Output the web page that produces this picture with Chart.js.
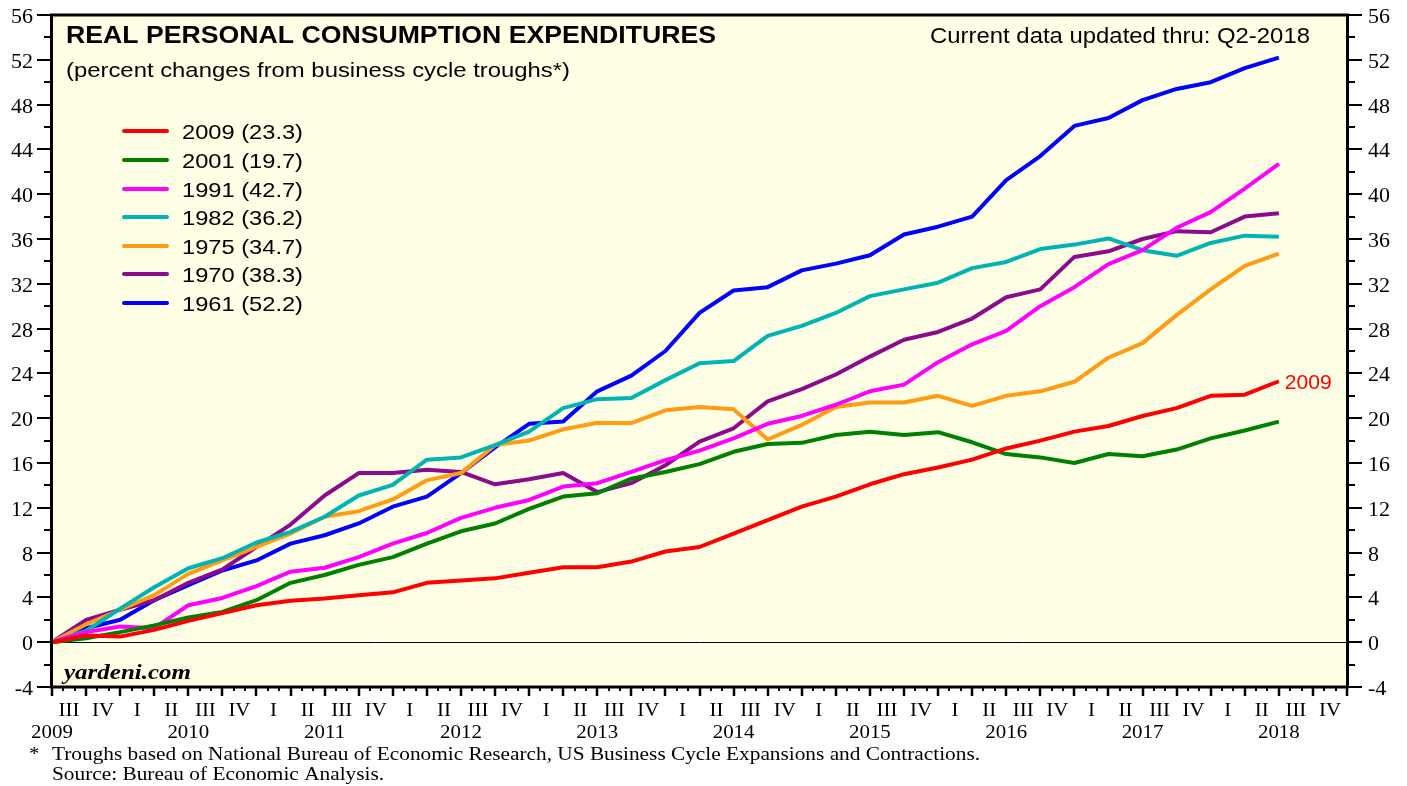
<!DOCTYPE html>
<html>
<head>
<meta charset="utf-8">
<script src="https://cdn.jsdelivr.net/npm/chart.js@4.4.1/dist/chart.umd.min.js"></script>
<style>
  html, body { margin: 0; padding: 0; background: #ffffff; }
  #wrap { width: 1407px; height: 786px; position: relative; }
  canvas { display: block; }
</style>
</head>
<body>
<div id="wrap"><canvas id="c" width="1407" height="786"></canvas></div>
<script>
// ---- Data: percent change from business-cycle trough, quarter 0 = trough ----
const s2009 = [0,0.6,0.5,1.1,1.9,2.6,3.3,3.7,3.9,4.2,4.45,5.3,5.5,5.7,6.2,6.7,6.7,7.2,8.1,8.5,9.7,10.9,12.1,13.0,14.1,15.0,15.6,16.3,17.3,18.0,18.8,19.3,20.2,20.9,22.0,22.1,23.3];
const s2001 = [0,0.35,0.9,1.5,2.2,2.7,3.75,5.3,6.0,6.9,7.6,8.8,9.9,10.6,11.9,13.0,13.3,14.6,15.2,15.9,17.0,17.7,17.8,18.5,18.8,18.5,18.75,17.85,16.8,16.5,16.0,16.8,16.6,17.2,18.2,18.9,19.7];
const s1991 = [0,0.9,1.4,1.25,3.3,3.95,5.0,6.3,6.65,7.6,8.8,9.75,11.1,12.0,12.7,13.9,14.2,15.2,16.25,17.1,18.2,19.5,20.2,21.2,22.4,23.0,25.0,26.6,27.8,30.0,31.7,33.75,35.0,37.0,38.4,40.5,42.7];
const s1982 = [0,1.0,3.0,4.9,6.6,7.5,8.9,9.85,11.2,13.1,14.05,16.3,16.5,17.6,18.8,20.9,21.7,21.8,23.4,24.9,25.1,27.35,28.25,29.4,30.9,31.5,32.1,33.4,33.95,35.1,35.5,36.05,35.0,34.5,35.65,36.3,36.2];
const s1975 = [0,1.6,2.9,4.2,6.1,7.3,8.5,9.7,11.2,11.7,12.75,14.45,15.1,17.6,18.0,19.0,19.6,19.55,20.7,21.0,20.8,18.1,19.4,21.0,21.4,21.4,22.0,21.1,22.0,22.4,23.25,25.4,26.7,29.2,31.5,33.6,34.7];
const s1970 = [0,2.0,2.9,3.75,5.3,6.5,8.5,10.5,13.1,15.1,15.1,15.4,15.2,14.1,14.55,15.1,13.4,14.2,15.8,17.9,19.1,21.5,22.6,23.9,25.5,27.0,27.7,28.9,30.8,31.5,34.4,34.9,36.0,36.7,36.6,38.0,38.3];
const s1961 = [0,1.25,2.0,3.75,5.1,6.4,7.3,8.8,9.55,10.6,12.1,13.0,15.1,17.4,19.5,19.7,22.4,23.8,26.0,29.4,31.4,31.7,33.2,33.8,34.55,36.4,37.1,38.0,41.25,43.4,46.1,46.8,48.4,49.4,50.0,51.25,52.2];

const seriesNames  = ['2009 (23.3)','2001 (19.7)','1991 (42.7)','1982 (36.2)','1975 (34.7)','1970 (38.3)','1961 (52.2)'];
const seriesColors = ['#ff0000','#008000','#ff00ff','#00b4b4','#ff9c12','#8c0a8c','#0000ff'];
const seriesData   = [s2009, s2001, s1991, s1982, s1975, s1970, s1961];

// ---- Tick labels ----
const yearLabels = ['2009','2010','2011','2012','2013','2014','2015','2016','2017','2018'];
const quarterNames = ['I','II','III','IV'];
const firstQuarterIdx = 2;     // first labelled interval is 2009 Q III
const quarterCount = 38;       // intervals shown on the axis
const yTickValues = [-4,0,4,8,12,16,20,24,28,32,36,40,44,48,52,56];

const SANS = '"Liberation Sans", Arial, Helvetica, sans-serif';
const SERIF = '"Liberation Serif", "Times New Roman", serif';

function drawText(ctx, s, x, y, font, color, align, targetW, hs) {
  ctx.save();
  ctx.font = font;
  ctx.fillStyle = color;
  ctx.textBaseline = 'alphabetic';
  ctx.textAlign = align || 'left';
  let sc = hs || 1;
  if (targetW) sc = targetW / ctx.measureText(s).width;
  ctx.translate(x, y);
  ctx.scale(sc, 1);
  ctx.fillText(s, 0, 0);
  ctx.restore();
}

const decor = {
  id: 'decor',
  beforeDatasetsDraw(chart) {
    const {ctx, chartArea: a, scales} = chart;
    ctx.save();
    ctx.fillStyle = '#ffffe6';
    ctx.fillRect(a.left, a.top, a.right - a.left, a.bottom - a.top);
    const y0 = Math.round(scales.y.getPixelForValue(0)) + 0.5;
    ctx.strokeStyle = '#000';
    ctx.lineWidth = 1;
    ctx.beginPath(); ctx.moveTo(a.left, y0); ctx.lineTo(a.right, y0); ctx.stroke();
    ctx.restore();
  },
  afterDatasetsDraw(chart) {
    const {ctx, chartArea: a, scales} = chart;
    const xs = scales.x, ys = scales.y;
    ctx.save();
    ctx.strokeStyle = '#000';
    ctx.lineWidth = 3;
    ctx.strokeRect(a.left - 0.5, a.top, a.right - a.left + 1, a.bottom - a.top);

    ctx.lineWidth = 2;
    for (let v = -4; v <= 56; v += 2) {
      const py = Math.round(ys.getPixelForValue(v));
      const major = (v % 4 === 0);
      const len = major ? 15 : 8;
      ctx.beginPath();
      ctx.moveTo(a.left - len, py); ctx.lineTo(a.left, py);
      ctx.moveTo(a.right, py); ctx.lineTo(a.right + len, py);
      ctx.stroke();
    }
    yTickValues.forEach(v => {
      const py = ys.getPixelForValue(v);
      drawText(ctx, String(v), 33, py + 8, '20px ' + SERIF, '#000', 'right', null, 1.1);
      drawText(ctx, String(v), 1368, py + 8, '20px ' + SERIF, '#000', 'left', null, 1.1);
    });

    for (let q = 0; q <= quarterCount; q++) {
      const px = Math.round(xs.getPixelForValue(q));
      ctx.lineWidth = 2.5;
      ctx.beginPath(); ctx.moveTo(px, a.bottom); ctx.lineTo(px, a.bottom + 9); ctx.stroke();
      if (q < quarterCount) {
        ctx.lineWidth = 2;
        for (let m = 1; m <= 2; m++) {
          const mx = Math.round(xs.getPixelForValue(q + m / 3));
          ctx.beginPath(); ctx.moveTo(mx, a.bottom); ctx.lineTo(mx, a.bottom + 4); ctx.stroke();
        }
      }
    }
    for (let q = 0; q < quarterCount; q++) {
      const lab = quarterNames[(firstQuarterIdx + q) % 4];
      drawText(ctx, lab, xs.getPixelForValue(q + 0.5), 716, '19px ' + SERIF, '#000', 'center', null, 1.1);
    }
    yearLabels.forEach((y, i) => {
      drawText(ctx, y, xs.getPixelForValue(i * 4), 738, '19px ' + SERIF, '#000', 'center', null, 1.1);
    });

    drawText(ctx, 'REAL PERSONAL CONSUMPTION EXPENDITURES', 66, 43, 'bold 24px ' + SANS, '#000', 'left', 650);
    drawText(ctx, '(percent changes from business cycle troughs*)', 66, 77, '21px ' + SANS, '#000', 'left', 504);
    drawText(ctx, 'Current data updated thru: Q2-2018', 1310, 43, '22px ' + SANS, '#000', 'right', 380);

    ctx.font = '21px ' + SANS;
    const lhs = 121 / ctx.measureText(seriesNames[0]).width;
    const rowY = [131, 160, 189, 217, 246, 274, 303];
    seriesNames.forEach((n, i) => {
      ctx.strokeStyle = seriesColors[i];
      ctx.lineWidth = 4;
      ctx.lineCap = 'round';
      ctx.beginPath(); ctx.moveTo(124, rowY[i]); ctx.lineTo(167, rowY[i]); ctx.stroke();
      drawText(ctx, n, 182, rowY[i] + 7.5, '21px ' + SANS, '#000', 'left', null, lhs);
    });

    const lastI = s2009.length - 1;
    drawText(ctx, '2009', xs.getPixelForValue(lastI) + 6, ys.getPixelForValue(s2009[lastI]) + 8, '21px ' + SANS, '#ff0000', 'left', 47);

    drawText(ctx, 'yardeni.com', 64, 679, 'italic bold 20px ' + SERIF, '#000', 'left', 127);
    drawText(ctx, '*', 29, 760, '19px ' + SERIF, '#000', 'left', null, 1.1);
    ctx.font = '19px ' + SERIF;
    const fn = 'Troughs based on National Bureau of Economic Research, US Business Cycle Expansions and Contractions.';
    const fhs = 928 / ctx.measureText(fn).width;
    drawText(ctx, fn, 52, 760, '19px ' + SERIF, '#000', 'left', null, fhs);
    drawText(ctx, 'Source: Bureau of Economic Analysis.', 52, 780, '19px ' + SERIF, '#000', 'left', null, fhs);
    ctx.restore();
  }
};

const datasets = seriesData.map((arr, i) => ({
  label: seriesNames[i],
  data: arr.map((v, k) => ({x: k, y: v})),
  borderColor: seriesColors[i],
  backgroundColor: seriesColors[i],
  borderWidth: 4,
  pointRadius: 0,
  tension: 0,
  fill: false,
  borderJoinStyle: 'round',
  borderCapStyle: 'butt'
}));

const hiddenAxis = (pos, fit) => ({
  position: pos,
  ticks: { display: false },
  grid: { display: false, drawOnChartArea: false, drawTicks: false },
  border: { display: false },
  afterFit: fit
});

new Chart(document.getElementById('c').getContext('2d'), {
  type: 'line',
  data: { datasets },
  options: {
    responsive: false,
    animation: false,
    devicePixelRatio: 1,
    layout: { padding: { top: 15, left: 0, right: 0, bottom: 0 } },
    plugins: { legend: { display: false }, tooltip: { enabled: false }, title: { display: false } },
    scales: {
      x: Object.assign(hiddenAxis('bottom', s => { s.height = 99; }), { type: 'linear', min: 0, max: quarterCount }),
      y: Object.assign(hiddenAxis('left', s => { s.width = 52; }), { type: 'linear', min: -4, max: 56 }),
      y2: Object.assign(hiddenAxis('right', s => { s.width = 60; }), { type: 'linear', min: -4, max: 56 })
    }
  },
  plugins: [decor]
});
</script>
</body>
</html>
